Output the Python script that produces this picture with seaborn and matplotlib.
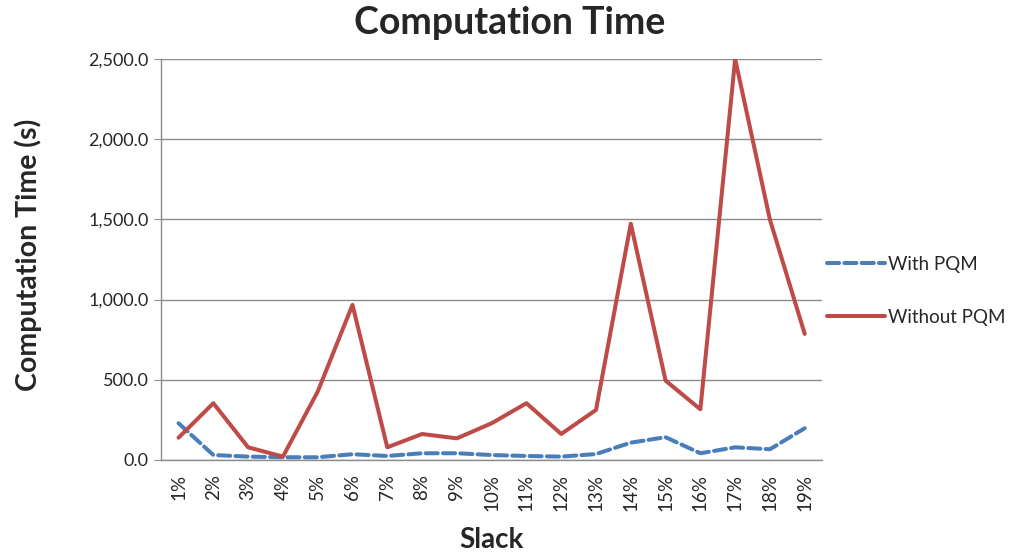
import matplotlib
matplotlib.use("Agg")
import matplotlib.pyplot as plt
import matplotlib.ticker as mticker
import pandas as pd
import seaborn as sns

# Slack levels and solver run times (seconds)
slack = [f"{i}%" for i in range(1, 20)]
with_pqm = [229, 31, 21, 17, 17, 36, 25, 42, 42, 31, 25, 21, 37, 108, 142, 42, 79, 67, 198]
without_pqm = [139, 354, 79, 21, 426, 967, 79, 162, 135, 229, 354, 162, 312, 1473, 495, 316, 2500, 1498, 786]
series_names = ["With PQM", "Without PQM"]

df = pd.DataFrame({
    "Slack": slack * 2,
    "Time": with_pqm + without_pqm,
    "Series": [series_names[0]] * len(slack) + [series_names[1]] * len(slack),
})

sns.set_style("white")
plt.rcParams["font.family"] = ["Lato", "DejaVu Sans"]

fig = plt.figure(figsize=(10.2, 5.54), dpi=100)
ax = fig.add_axes([0.158, 0.1697, 0.648, 0.7238])

palette = {"With PQM": "#4A7EBB", "Without PQM": "#BE4B48"}
sns.lineplot(data=df, x="Slack", y="Time", hue="Series", style="Series",
             palette=palette, dashes={"With PQM": (3, 1.3), "Without PQM": ""},
             linewidth=2.9, sort=False, ax=ax, legend=False)
for line in ax.get_lines():
    line.set_dash_capstyle("round")
    line.set_solid_capstyle("round")

ax.set_xlim(-0.5, len(slack) - 0.5)
ax.set_ylim(0, 2500)
ax.yaxis.set_major_locator(mticker.MultipleLocator(500))
ax.yaxis.set_major_formatter(mticker.FuncFormatter(lambda v, p: f"{v:,.1f}"))
ax.grid(axis="y", color="#8c8c8c", linewidth=1.0)
ax.set_axisbelow(True)

for side in ["top", "right"]:
    ax.spines[side].set_visible(False)
for side in ["left", "bottom"]:
    ax.spines[side].set_color("#8c8c8c")
    ax.spines[side].set_linewidth(1.0)

ax.tick_params(axis="y", labelsize=13, length=5, color="#8c8c8c", direction="out", left=True, pad=4)
ax.tick_params(axis="x", labelsize=13.5, length=0, pad=10)
plt.setp(ax.get_xticklabels(), rotation=90)

ax.set_xlabel("Slack", fontsize=20, fontweight="bold")
ax.set_ylabel("Computation Time (s)", fontsize=20.5, fontweight="bold")
ax.xaxis.set_label_coords(0.5, -0.2, transform=ax.transAxes)
ax.yaxis.set_label_coords(-0.201, 0.511, transform=ax.transAxes)
ax.xaxis.label.set_va("center")
ax.yaxis.label.set_va("center")

fig.text(0.5, 0.958, "Computation Time", ha="center", va="center",
         fontsize=27, fontweight="bold")

handles = [
    plt.Line2D([], [], color=palette["With PQM"], lw=2.9, dashes=(3, 1.3), dash_capstyle="round"),
    plt.Line2D([], [], color=palette["Without PQM"], lw=2.9, solid_capstyle="round"),
]
fig.legend(handles, series_names, loc="center left", bbox_to_anchor=(0.798, 0.475),
           frameon=False, fontsize=13.5, handlelength=3.1, handletextpad=0.15,
           labelspacing=1.9, borderpad=0.2)

fig.savefig("out.png", dpi=100)
